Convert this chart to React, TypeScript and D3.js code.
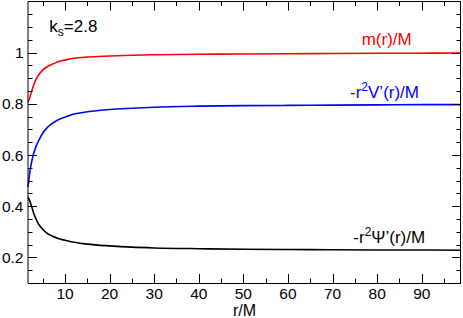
import React from "react";
import * as d3 from "d3";

const rValues = [1.7, 2, 2.5, 3, 3.5, 4, 5, 6, 7, 8.5, 10, 12, 15, 20, 25, 30, 40, 50, 60, 70, 80, 90, 98.8];
const massValues = [0.806, 0.82, 0.848, 0.875, 0.896, 0.911, 0.932, 0.945, 0.954, 0.965, 0.971, 0.978, 0.983, 0.987, 0.99, 0.992, 0.994, 0.995, 0.996, 0.997, 0.998, 0.998, 0.999];
const vPrimeValues = [0.475, 0.52, 0.572, 0.608, 0.634, 0.653, 0.685, 0.707, 0.722, 0.738, 0.748, 0.76, 0.769, 0.778, 0.783, 0.787, 0.791, 0.793, 0.794, 0.795, 0.796, 0.797, 0.797];
const psiPrimeValues = [0.436, 0.425, 0.4, 0.372, 0.35, 0.332, 0.31, 0.294, 0.285, 0.274, 0.267, 0.259, 0.252, 0.245, 0.24, 0.237, 0.234, 0.232, 0.231, 0.23, 0.229, 0.229, 0.228];

const xMajor = [10, 20, 30, 40, 50, 60, 70, 80, 90];
const xMinor = [5, 15, 25, 35, 45, 55, 65, 75, 85, 95];
const yMajor = [0.2, 0.4, 0.6, 0.8, 1.0];
const yLabels = ["0.2", "0.4", "0.6", "0.8", "1"];
const yMinor = [0.15, 0.25, 0.3, 0.35, 0.45, 0.5, 0.55, 0.65, 0.7, 0.75, 0.85, 0.9, 0.95, 1.05, 1.1, 1.15];

const W = 463, H = 318;
const L = 28, R = 461, T = 1.5, B = 283;
const FONT = "'Liberation Sans', Arial, Helvetica, sans-serif";

export default function App() {
  const x = d3.scaleLinear().domain([1.7, 98.8]).range([L, R]);
  const y = d3.scaleLinear().domain([0.1, 1.2]).range([B, T]);
  const line = d3
    .line<number>()
    .x((_, i) => x(rValues[i]))
    .y((d) => y(d))
    .curve(d3.curveMonotoneX);

  const series = [
    { vals: massValues, color: "#ff0000" },
    { vals: vPrimeValues, color: "#0000ff" },
    { vals: psiPrimeValues, color: "#000000" },
  ];

  const majL = 9, minL = 4.5;

  return (
    <svg width={W} height={H} style={{ position: "absolute", left: 0, top: 0, background: "#fff" }} fontFamily={FONT}>
      <rect x={0} y={0} width={W} height={H} fill="#fff" />
      {series.map((s, i) => (
        <path key={i} d={line(s.vals) || ""} fill="none" stroke={s.color} strokeWidth={1.6} />
      ))}
      <g stroke="#000" strokeWidth={1} fill="none">
        {/* frame */}
        <line x1={L} y1={T} x2={L} y2={B} />
        <line x1={L} y1={B + 0.5} x2={R} y2={B + 0.5} />
        <line x1={R - 0.5} y1={T} x2={R - 0.5} y2={B} />
        <line x1={L} y1={T} x2={R} y2={T} />
        {xMajor.map((v) => (
          <g key={"xM" + v}>
            <line x1={Math.round(x(v)) + 0.5} x2={Math.round(x(v)) + 0.5} y1={B} y2={B - majL} />
            <line x1={Math.round(x(v)) + 0.5} x2={Math.round(x(v)) + 0.5} y1={T} y2={T + majL} />
          </g>
        ))}
        {xMinor.map((v) => (
          <g key={"xm" + v}>
            <line x1={Math.round(x(v)) + 0.5} x2={Math.round(x(v)) + 0.5} y1={B} y2={B - minL} />
            <line x1={Math.round(x(v)) + 0.5} x2={Math.round(x(v)) + 0.5} y1={T} y2={T + minL} />
          </g>
        ))}
        {yMajor.map((v) => (
          <g key={"yM" + v}>
            <line x1={L} x2={L + majL} y1={Math.round(y(v)) + 0.5} y2={Math.round(y(v)) + 0.5} />
            <line x1={R} x2={R - majL} y1={Math.round(y(v)) + 0.5} y2={Math.round(y(v)) + 0.5} />
          </g>
        ))}
        {yMinor.map((v) => (
          <g key={"ym" + v}>
            <line x1={L} x2={L + minL} y1={Math.round(y(v)) + 0.5} y2={Math.round(y(v)) + 0.5} />
            <line x1={R} x2={R - minL} y1={Math.round(y(v)) + 0.5} y2={Math.round(y(v)) + 0.5} />
          </g>
        ))}
      </g>
      <g fontSize={15.5} fill="#000">
        {xMajor.map((v) => (
          <text key={"xl" + v} x={x(v)} y={299} textAnchor="middle">
            {v}
          </text>
        ))}
        {yMajor.map((v, i) => (
          <text key={"yl" + v} x={23.5} y={y(v) + 5.5} textAnchor="end">
            {yLabels[i]}
          </text>
        ))}
      </g>
      <text x={(L + R) / 2} y={316} textAnchor="middle" fontSize={16}>
        r/M
      </text>
      <text x={49.3} y={31.7} fontSize={17}>
        k<tspan fontSize={12} dy={4}>s</tspan>
        <tspan dy={-4}>=2.8</tspan>
      </text>
      <text x={361.7} y={45} fontSize={17} fill="#ff0000">
        m(r)/M
      </text>
      <text x={350} y={98} fontSize={17} fill="#0000ff">
        -r<tspan fontSize={12} dy={-7}>2</tspan>
        <tspan dy={7}>V’(r)/M</tspan>
      </text>
      <text x={353.3} y={243.3} fontSize={17} fill="#000">
        -r<tspan fontSize={12} dy={-7}>2</tspan>
        <tspan dy={7}>Ψ’(r)/M</tspan>
      </text>
    </svg>
  );
}
